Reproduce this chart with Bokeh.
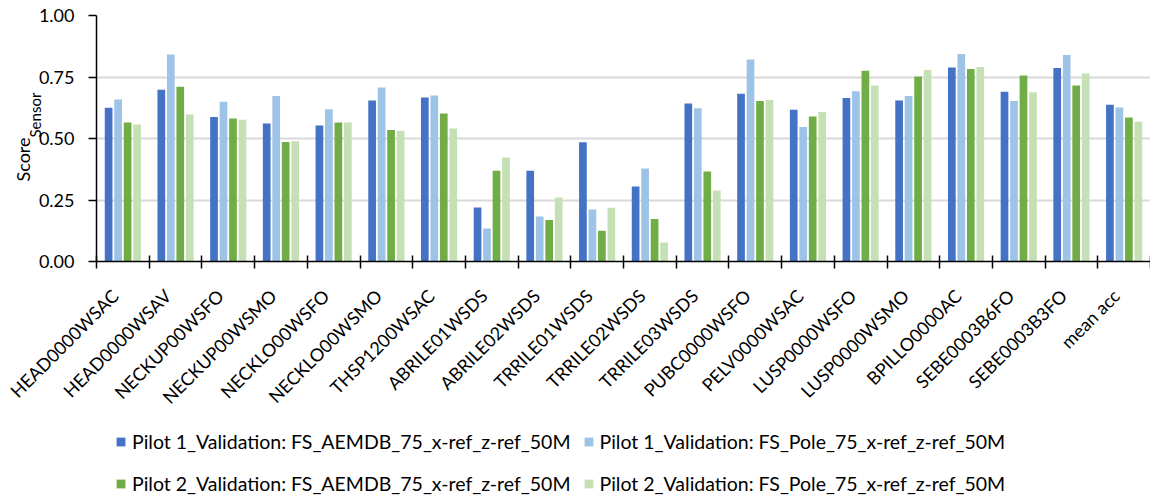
import numpy as np
from math import pi
from bokeh.plotting import figure
from bokeh.layouts import column
from bokeh.models import (Range1d, FixedTicker, NumeralTickFormatter, Legend,
                          LegendItem, Title, ColumnDataSource)
from bokeh.embed import file_html
from bokeh.resources import INLINE

categories = ["HEAD0000WSAC", "HEAD0000WSAV", "NECKUP00WSFO", "NECKUP00WSMO",
              "NECKLO00WSFO", "NECKLO00WSMO", "THSP1200WSAC", "ABRILE01WSDS",
              "ABRILE02WSDS", "TRRILE01WSDS", "TRRILE02WSDS", "TRRILE03WSDS",
              "PUBC0000WSFO", "PELV0000WSAC", "LUSP0000WSFO", "LUSP0000WSMO",
              "BPILLO0000AC", "SEBE0003B6FO", "SEBE0003B3FO", "mean acc"]

p1_aemdb = [0.625, 0.698, 0.587, 0.561, 0.553, 0.654, 0.667, 0.220, 0.369, 0.485,
            0.305, 0.642, 0.682, 0.617, 0.665, 0.654, 0.789, 0.690, 0.787, 0.637]
p1_pole = [0.659, 0.841, 0.649, 0.673, 0.619, 0.707, 0.675, 0.134, 0.183, 0.211,
           0.378, 0.623, 0.821, 0.547, 0.692, 0.673, 0.843, 0.652, 0.839, 0.626]
p2_aemdb = [0.565, 0.710, 0.581, 0.486, 0.565, 0.535, 0.602, 0.369, 0.169, 0.125,
            0.173, 0.366, 0.652, 0.589, 0.775, 0.752, 0.783, 0.756, 0.715, 0.585]
p2_pole = [0.557, 0.598, 0.576, 0.489, 0.565, 0.531, 0.541, 0.423, 0.260, 0.218,
           0.077, 0.289, 0.657, 0.608, 0.715, 0.778, 0.791, 0.688, 0.764, 0.568]

series_names = ["Pilot 1_Validation: FS_AEMDB_75_x-ref_z-ref_50M",
                "Pilot 1_Validation: FS_Pole_75_x-ref_z-ref_50M",
                "Pilot 2_Validation: FS_AEMDB_75_x-ref_z-ref_50M",
                "Pilot 2_Validation: FS_Pole_75_x-ref_z-ref_50M"]
series_values = [p1_aemdb, p1_pole, p2_aemdb, p2_pole]
colors = ["#4472C4", "#9DC3E6", "#70AD47", "#C5E0B4"]
y_ticks = [0.0, 0.25, 0.5, 0.75, 1.0]

FONT = "Lato"
n = len(categories)
centers = np.arange(n) + 0.5
offsets = [-0.27, -0.09, 0.09, 0.27]
label_shift = -0.15   # labels anchored slightly left of the category centre

p = figure(width=1150, height=420, x_range=Range1d(0, n), y_range=Range1d(0, 1),
           output_backend="svg", toolbar_location=None,
           min_border_left=96, min_border_right=0, min_border_top=15,
           min_border_bottom=159)
p.outline_line_color = None
p.background_fill_color = "white"

for vals, col, off in zip(series_values, colors, offsets):
    src = ColumnDataSource(dict(x=centers + off, top=vals))
    p.vbar(x="x", top="top", bottom=0, width=0.146, source=src,
           fill_color=col, line_color=None)

# x axis
label_pos = [float(c + label_shift) for c in centers]
xa = p.xaxis[0]
xa.ticker = FixedTicker(ticks=label_pos, minor_ticks=list(range(n + 1)))
xa.major_label_overrides = {t: name for t, name in zip(label_pos, categories)}
xa.major_label_orientation = pi / 4
xa.major_tick_in = 0
xa.major_tick_out = 0
xa.minor_tick_in = 6
xa.minor_tick_out = 7
xa.minor_tick_line_color = "black"
xa.minor_tick_line_width = 1.5
xa.axis_line_color = "black"
xa.axis_line_width = 1.5
xa.major_label_text_font = FONT
xa.major_label_text_font_size = "18px"
xa.major_label_text_color = "black"
xa.major_label_standoff = 24

# y axis
ya = p.yaxis[0]
ya.ticker = FixedTicker(ticks=y_ticks)
ya.formatter = NumeralTickFormatter(format="0.00")
ya.major_tick_in = 0
ya.major_tick_out = 8
ya.minor_tick_line_color = None
ya.major_tick_line_color = "black"
ya.major_tick_line_width = 1.5
ya.axis_line_color = "black"
ya.axis_line_width = 1.5
ya.major_label_text_font = FONT
ya.major_label_text_font_size = "18px"
ya.major_label_text_color = "black"
ya.major_label_standoff = 14

p.xgrid.visible = False
p.ygrid.grid_line_color = "#D9D9D9"
p.ygrid.grid_line_width = 2

# y axis label "Score" with subscript "Sensor" as side titles
t_sensor = Title(text="Sensor", align="left", offset=124, standoff=0,
                 text_font=FONT, text_font_size="15px", text_font_style="normal",
                 text_color="black")
t_score = Title(text="Score", align="left", offset=80, standoff=0,
                text_font=FONT, text_font_size="18px", text_font_style="normal",
                text_color="black")
try:
    t_score.standoff = -2
except Exception:
    t_score.standoff = 0
try:
    t_sensor.standoff = -17
except Exception:
    t_sensor.standoff = 0
p.add_layout(t_sensor, "left")
p.add_layout(t_score, "left")

# legend strip below the chart (swatch renderers sit outside its visible range)
lg = figure(width=1150, height=75, x_range=Range1d(0, n), y_range=Range1d(5, 6),
            output_backend="svg", toolbar_location=None,
            x_axis_location=None, y_axis_location=None,
            min_border=0, min_border_left=0, min_border_right=0,
            min_border_top=0, min_border_bottom=0)
lg.grid.visible = False
lg.outline_line_color = None
swatches = []
for vals, col, off in zip(series_values, colors, offsets):
    src = ColumnDataSource(dict(x=centers + off, top=vals))
    swatches.append(lg.vbar(x="x", top="top", bottom=0, width=0.146, source=src,
                            fill_color=col, line_color=None))

def make_legend(idx, loc):
    items = [LegendItem(label=series_names[i], renderers=[swatches[i]]) for i in idx]
    return Legend(items=items, orientation="horizontal", location=loc,
                  glyph_width=11, glyph_height=11, label_standoff=6, spacing=12,
                  padding=0, margin=0, border_line_color=None,
                  background_fill_alpha=0, label_text_font=FONT,
                  label_text_font_size="19.5px", label_text_color="black",
                  label_height=20)

lg.add_layout(make_legend([0, 1], (19, 42)))
lg.add_layout(make_legend([2, 3], (19, 0)))

layout = column(p, lg, spacing=0)
open("out.html", "w").write(file_html(layout, INLINE))
